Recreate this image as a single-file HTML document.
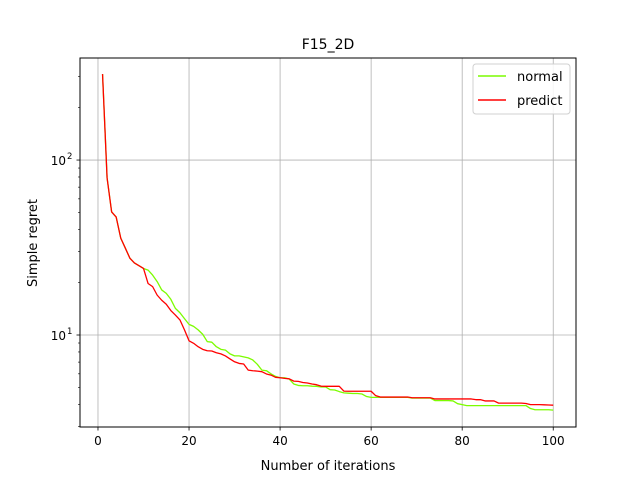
<!DOCTYPE html>
<html><head><meta charset="utf-8"><style>
html,body{margin:0;padding:0;background:#fff}
svg{display:block;font-family:"DejaVu Sans","Liberation Sans",sans-serif}
</style></head><body>
<svg id="chart" width="640" height="480" xmlns="http://www.w3.org/2000/svg">
<rect width="640" height="480" fill="#fff"/>
<text x="328" y="49" text-anchor="middle" font-size="14">F15_2D</text>
<g id="grid"></g>
<g id="series"></g>
<rect x="80" y="58" width="496" height="369" fill="none" stroke="#000" stroke-width="1"/>
<g id="ticks"></g>
<text x="328" y="470" text-anchor="middle" font-size="13">Number of iterations</text>
<text transform="translate(37,243) rotate(-90)" text-anchor="middle" font-size="13">Simple regret</text>
<g>
<rect x="473" y="64" width="97" height="50" rx="3" fill="#fff" fill-opacity="0.85" stroke="#d0d0d0"/>
<line x1="478" y1="76" x2="506" y2="76" stroke="#7cfc00" stroke-width="1.5"/>
<text x="517" y="81" font-size="13">normal</text>
<line x1="478" y1="100" x2="506" y2="100" stroke="#ff0000" stroke-width="1.5"/>
<text x="517" y="105" font-size="13">predict</text>
</g>
</svg>
<script>
const iterations = Array.from({length:100},(_, i)=>i+1);
const normalValues = [310,79,50.5,47.2,35.8,31.4,27.5,25.8,24.9,24.0,
23.5,22.0,20.2,18.1,17.3,16.0,14.2,13.4,12.4,11.5,
11.2,10.7,10.1,9.17,9.1,8.57,8.28,8.2,7.8,7.6,
7.6,7.5,7.4,7.2,6.8,6.3,6.25,6.0,5.8,5.7,
5.7,5.6,5.25,5.15,5.13,5.13,5.1,5.09,5.05,5.05,
4.87,4.85,4.75,4.67,4.65,4.63,4.63,4.6,4.45,4.4,
4.4,4.4,4.4,4.4,4.4,4.4,4.4,4.4,4.36,4.36,
4.36,4.36,4.36,4.22,4.22,4.22,4.22,4.2,4.05,4.0,
3.95,3.95,3.95,3.95,3.95,3.95,3.95,3.95,3.95,3.95,
3.95,3.95,3.95,3.95,3.8,3.74,3.74,3.74,3.74,3.72];
const predictValues = [310,79,50.5,47.2,35.8,31.4,27.5,25.8,24.9,24.0,
19.7,18.9,16.9,15.8,15.0,13.8,13.0,12.2,10.7,9.27,
8.97,8.57,8.28,8.13,8.1,7.92,7.8,7.59,7.3,7.03,
6.88,6.83,6.3,6.25,6.22,6.17,5.99,5.9,5.73,5.7,
5.65,5.62,5.45,5.43,5.35,5.32,5.25,5.2,5.1,5.09,
5.09,5.09,5.09,4.78,4.77,4.77,4.77,4.77,4.77,4.77,
4.5,4.42,4.42,4.42,4.42,4.42,4.42,4.42,4.38,4.38,
4.38,4.38,4.38,4.31,4.31,4.31,4.31,4.31,4.31,4.31,
4.31,4.31,4.27,4.27,4.2,4.2,4.2,4.08,4.08,4.08,
4.08,4.08,4.08,4.06,4.0,4.0,4.0,3.99,3.98,3.97];
const xTicks = [0,20,40,60,80,100];
const yMajorExps = [1,2];

const NS='http://www.w3.org/2000/svg';
const X0=80,X1=576,Y0=58,Y1=427;
const xMin=-3.95, xMax=105.0;
const lMin=Math.log10(2.98), lMax=Math.log10(383);
function xs(v){return X0+(v-xMin)/(xMax-xMin)*(X1-X0);}
function ys(v){return Y1-(Math.log10(v)-lMin)/(lMax-lMin)*(Y1-Y0);}
function mk(tag,attrs,parent){const e=document.createElementNS(NS,tag);for(const k in attrs)e.setAttribute(k,attrs[k]);parent.appendChild(e);return e;}
const grid=document.getElementById('grid'),ticks=document.getElementById('ticks'),series=document.getElementById('series');
xTicks.forEach(t=>{
  const x=xs(t);
  const g=mk('line',{x1:x,y1:Y0,x2:x,y2:Y1,stroke:'#b0b0b0','stroke-width':0.8},grid);
  
  
  const tk=mk('line',{x1:x,y1:Y1,x2:x,y2:Y1+3.5,stroke:'#000','stroke-width':0.8},ticks);
  
  
  const tx=mk('text',{x:x,y:Y1+18,'text-anchor':'middle','font-size':12},ticks);
  tx.textContent=String(t);
  
  
});
yMajorExps.forEach(p=>{
  const y=ys(Math.pow(10,p));
  const g=mk('line',{x1:X0,y1:y,x2:X1,y2:y,stroke:'#b0b0b0','stroke-width':0.8},grid);
  
  
  const tk=mk('line',{x1:X0-3.5,y1:y,x2:X0,y2:y,stroke:'#000','stroke-width':0.8},ticks);
  
  
  const tx=mk('text',{x:X0-14,y:y+5,'text-anchor':'end','font-size':12},ticks);
  tx.textContent='10';
  
  
  const sp=mk('text',{x:X0-13,y:y-1,'text-anchor':'start','font-size':8.5},ticks);
  sp.textContent=String(p);
  
  
});
[3,4,5,6,7,8,9,20,30,40,50,60,70,80,90,200,300].forEach(v=>{
  const y=ys(v); if(y<Y0||y>Y1)return;
  const tk=mk('line',{x1:X0-2,y1:y,x2:X0,y2:y,stroke:'#000','stroke-width':0.6},ticks);
  
  
});
function line(vals,color,name){
  const d=vals.map((v,i)=>(i?'L':'M')+xs(iterations[i]).toFixed(2)+' '+ys(v).toFixed(2)).join(' ');
  const p=mk('path',{d:d,fill:'none',stroke:color,'stroke-width':1.3,'stroke-linejoin':'round'},series);
  
  
}
line(normalValues,'#7cfc00','normal-line');
line(predictValues,'#ff0000','predict-line');
</script>
</body></html>
